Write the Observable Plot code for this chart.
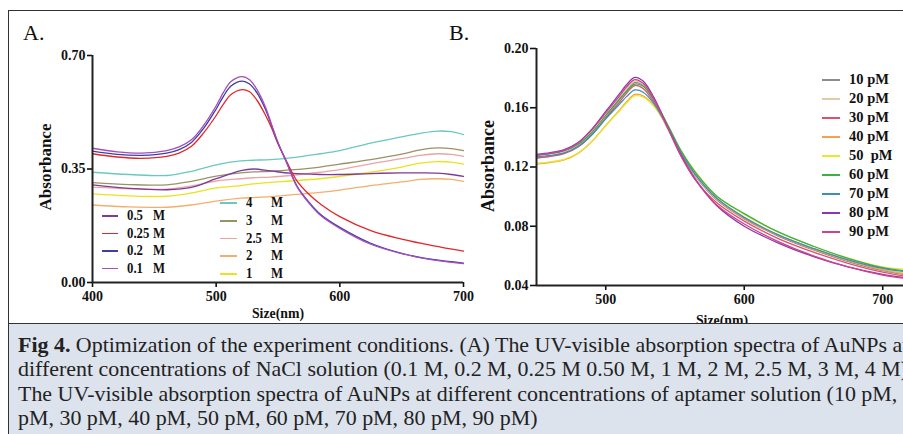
<!DOCTYPE html>
<html><head><meta charset="utf-8">
<script src="https://cdn.jsdelivr.net/npm/d3@7"></script>
<script src="https://cdn.jsdelivr.net/npm/@observablehq/plot@0.6"></script>
<style>
html,body{margin:0;padding:0;background:#fff;}
#page{position:relative;width:903px;height:434px;overflow:hidden;font-family:"Liberation Serif","Times New Roman",serif;color:#111;}
#frame{position:absolute;left:8px;top:10px;width:1000px;height:500px;border-left:1.5px solid #333;border-top:1.5px solid #333;}
#cap{position:absolute;left:8px;top:323px;width:1000px;height:130px;background:#dce3ed;border-top:1.5px solid #333;border-left:1.5px solid #333;z-index:5;}
.panel{position:absolute;top:0;}
.lbl{position:absolute;font-size:22px;line-height:1;}
.title{position:absolute;font-weight:bold;white-space:nowrap;line-height:1;}
.leg{position:absolute;font-weight:bold;font-size:14.5px;white-space:pre;line-height:16px;transform:scaleX(0.88);transform-origin:0 0;}
.sw{position:absolute;height:1.5px;}
.capline{position:absolute;left:18px;white-space:nowrap;font-size:21px;line-height:24px;transform-origin:0 0;color:#222;}
</style></head>
<body><div id="page"><div id="frame"></div></div>
<script>
// ---------- Panel A data: NaCl concentrations ----------
const seriesA = ["0.5 M","0.25 M","0.2 M","0.1 M","4 M","3 M","2.5 M","2 M","1 M"];
const colorsA = ["#7d3a98","#e3262a","#3d3f9e","#a64cbc","#69c8c0","#9a9266","#eba4a4","#f3ae6c","#e8e31e"];
const xDomA = [400, 700];
const yDomA = [0, 0.70];
const xTicksA = [400, 500, 600, 700];
const yTicksA = [0, 0.35, 0.70];

const wlAPeak = [400,420,440,460,470,480,490,500,506,512,521,527,533,540,545,550,557,565,575,585,600,625,650,675,700];
const nacl01  = [.414,.403,.399,.407,.418,.440,.485,.545,.587,.620,.635,.625,.595,.540,.485,.432,.370,.298,.245,.205,.167,.118,.089,.070,.058];
const nacl02  = [.405,.395,.392,.399,.410,.432,.476,.535,.575,.606,.621,.612,.585,.533,.482,.430,.370,.300,.248,.208,.170,.121,.090,.071,.060];
const nacl025 = [.397,.387,.383,.389,.399,.420,.462,.515,.551,.580,.595,.588,.562,.515,.475,.428,.373,.315,.272,.240,.203,.160,.134,.114,.097];

const wlABroad = [400,430,460,480,500,520,530,544,560,584,600,625,650,665,679,690,700];
const nacl4  = [.340,.333,.330,.343,.363,.375,.377,.379,.384,.397,.407,.430,.449,.460,.467,.465,.456];
const nacl3  = [.308,.302,.301,.312,.328,.338,.341,.343,.347,.356,.365,.379,.396,.409,.415,.413,.407];
const nacl25 = [.294,.289,.288,.298,.313,.320,.323,.325,.330,.340,.348,.366,.382,.392,.397,.395,.389];
const nacl2  = [.239,.233,.232,.239,.251,.260,.262,.265,.270,.278,.285,.299,.310,.318,.320,.318,.312];
const nacl1  = [.273,.267,.266,.276,.292,.299,.304,.309,.313,.320,.327,.340,.356,.368,.373,.371,.365];
const nacl05 = [.301,.290,.286,.293,.320,.345,.350,.344,.337,.333,.333,.336,.338,.338,.337,.333,.327];

// ---------- Panel B data: aptamer concentrations ----------
const seriesB = ["10 pM","20 pM","30 pM","40 pM","50 pM","60 pM","70 pM","80 pM","90 pM"];
const legendB = ["10 pM","20 pM","30 pM","40 pM","50  pM","60 pM","70 pM","80 pM","90 pM"];
const colorsB = ["#8c8c8c","#e6c7a6","#e0506a","#f5a150","#e8e82c","#3cb043","#3d8fb5","#8a3aa8","#d0408f"];
const xDomB = [450, 715];
const yDomB = [0.04, 0.20];
const xTicksB = [500, 600, 700];
const yTicksB = [0.04, 0.08, 0.12, 0.16, 0.20];

const wlB = [450,460,470,480,490,500,510,515,521,527,535,545,555,565,580,600,625,650,675,700,715];
const apt10 = [.1262,.1274,.1293,.1338,.1422,.1538,.1655,.1715,.1770,.1750,.1645,.1465,.1280,.1135,.0978,.0850,.0732,.0640,.0562,.0500,.0475];
const apt20 = [.1265,.1277,.1297,.1343,.1428,.1545,.1665,.1725,.1780,.1758,.1650,.1470,.1285,.1140,.0985,.0860,.0740,.0650,.0570,.0510,.0485];
const apt30 = [.1260,.1272,.1290,.1335,.1418,.1530,.1640,.1698,.1750,.1730,.1632,.1455,.1262,.1110,.0960,.0835,.0715,.0625,.0550,.0490,.0465];
const apt40 = [.1220,.1230,.1248,.1292,.1372,.1480,.1585,.1640,.1690,.1680,.1610,.1462,.1285,.1145,.0988,.0855,.0738,.0645,.0568,.0505,.0480];
const apt50 = [.1225,.1235,.1252,.1295,.1373,.1478,.1580,.1632,.1680,.1672,.1608,.1470,.1300,.1165,.1005,.0880,.0758,.0665,.0585,.0525,.0510];
const apt60 = [.1278,.1290,.1308,.1352,.1435,.1548,.1660,.1712,.1760,.1745,.1650,.1480,.1300,.1160,.1005,.0885,.0760,.0665,.0583,.0520,.0500];
const apt70 = [.1268,.1278,.1295,.1338,.1418,.1525,.1625,.1675,.1720,.1705,.1625,.1465,.1285,.1145,.0990,.0860,.0740,.0650,.0573,.0515,.0495];
const apt80 = [.1285,.1297,.1317,.1365,.1455,.1575,.1695,.1755,.1805,.1780,.1665,.1465,.1270,.1115,.0940,.0800,.0685,.0595,.0525,.0475,.0455];
const apt90 = [.1280,.1292,.1312,.1360,.1450,.1565,.1680,.1740,.1790,.1765,.1655,.1460,.1265,.1110,.0945,.0815,.0695,.0600,.0525,.0470,.0450];

// ---------- build tidy rows ----------
function rows(name, xs, ys){ return xs.map((x,i)=>({series:name, wl:x, abs:ys[i]})); }
const rowsA = [
  ...rows("2 M", wlABroad, nacl2), ...rows("1 M", wlABroad, nacl1), ...rows("2.5 M", wlABroad, nacl25),
  ...rows("3 M", wlABroad, nacl3), ...rows("4 M", wlABroad, nacl4), ...rows("0.5 M", wlABroad, nacl05),
  ...rows("0.25 M", wlAPeak, nacl025), ...rows("0.2 M", wlAPeak, nacl02), ...rows("0.1 M", wlAPeak, nacl01)
];
const aptArrays = [apt10,apt20,apt30,apt40,apt50,apt60,apt70,apt80,apt90];
const rowsB = seriesB.flatMap((s,i)=>rows(s, wlB, aptArrays[i]));

const page = document.getElementById("page");
const baseStyle = {fontFamily:"'Liberation Serif','Times New Roman',serif", fontSize:"14px", fontWeight:"bold", color:"#111", background:"transparent", overflow:"visible"};

const plotA = Plot.plot({
  width:470, height:330, marginLeft:92, marginRight:7, marginTop:55, marginBottom:48,
  x:{domain:xDomA}, y:{domain:yDomA},
  color:{domain:seriesA, range:colorsA},
  style:baseStyle,
  marks:[
    Plot.line(rowsA, {x:"wl", y:"abs", z:"series", stroke:"series", strokeWidth:1.3, curve:"catmull-rom"}),
    Plot.axisX({ticks:xTicksA, tickSize:5, tickPadding:4, strokeWidth:1.6, label:null, tickFormat:d=>String(d)}),
    Plot.axisY({ticks:yTicksA, tickSize:5, tickPadding:2, strokeWidth:1.6, label:null, tickFormat:d=>d.toFixed(2)}),
    Plot.ruleX([xDomA[0]], {strokeWidth:2, stroke:"#222"}),
    Plot.ruleY([yDomA[0]], {strokeWidth:2, stroke:"#222"})
  ]
});
plotA.classList.add("panel"); plotA.style.left = "0px";
page.appendChild(plotA);

const plotB = Plot.plot({
  width:463, height:330, marginLeft:96, marginRight:0, marginTop:48, marginBottom:45,
  x:{domain:xDomB}, y:{domain:yDomB},
  color:{domain:seriesB, range:colorsB},
  style:baseStyle,
  marks:[
    Plot.line(rowsB, {x:"wl", y:"abs", z:"series", stroke:"series", strokeWidth:1.3, curve:"catmull-rom"}),
    Plot.axisX({ticks:xTicksB, tickSize:5, tickPadding:4, strokeWidth:1.6, label:null, tickFormat:d=>String(d)}),
    Plot.axisY({ticks:yTicksB, tickSize:6, tickPadding:2, strokeWidth:1.6, label:null, tickFormat:d=>d.toFixed(2)}),
    Plot.ruleX([xDomB[0]], {strokeWidth:2, stroke:"#222"}),
    Plot.ruleY([yDomB[0]], {strokeWidth:2, stroke:"#222"})
  ]
});
plotB.classList.add("panel"); plotB.style.left = "440px";
page.appendChild(plotB);

// ---------- text helpers ----------
function el(cls, html, css){ const d=document.createElement("div"); d.className=cls; d.innerHTML=html; Object.assign(d.style, css); page.appendChild(d); return d; }

el("lbl","A.",{left:"23px", top:"22px"});
el("lbl","B.",{left:"449px", top:"22px"});

el("title","Absorbance",{left:"45px", top:"167px", fontSize:"17px", transform:"translate(-50%,-50%) rotate(-90deg)"});
el("title","Absorbance",{left:"488px", top:"166px", fontSize:"18px", transform:"translate(-50%,-50%) rotate(-90deg)"});
el("title","Size(nm)",{left:"278px", top:"313px", fontSize:"15px", transform:"translate(-50%,-50%) scaleX(0.92)"});
el("title","Size(nm)",{left:"722px", top:"320px", fontSize:"15px", transform:"translate(-50%,-50%) scaleX(0.92)"});

// ---------- legend A ----------
const legAleft = [["0.5","0.5 M"],["0.25","0.25 M"],["0.2","0.2 M"],["0.1","0.1 M"]];
const legAright = [["4","4 M"],["3","3 M"],["2.5","2.5 M"],["2","2 M"],["1","1 M"]];
const rowYleft = [215, 232.5, 250, 267.5];
const rowYright = [202, 220, 237.5, 255, 273];
legAleft.forEach(([num,key],i)=>{
  const c = colorsA[seriesA.indexOf(key)];
  el("sw","",{left:"102px", width:"16px", top:rowYleft[i]+"px", background:c});
  el("leg",num,{left:"127px", top:(rowYleft[i]-8)+"px"});
  el("leg","M",{left:"153px", top:(rowYleft[i]-8)+"px"});
});
legAright.forEach(([num,key],i)=>{
  const c = colorsA[seriesA.indexOf(key)];
  el("sw","",{left:"220px", width:"17px", top:rowYright[i]+"px", background:c});
  el("leg",num,{left:"246px", top:(rowYright[i]-8)+"px"});
  el("leg","M",{left:"271px", top:(rowYright[i]-8)+"px"});
});

// ---------- legend B ----------
legendB.forEach((lab,i)=>{
  const y = 79 + 19*i;
  el("sw","",{left:"822px", width:"18px", top:y+"px", background:colorsB[i]});
  el("leg",lab,{left:"849px", top:(y-8)+"px", transform:"none"});
});

// ---------- caption ----------
const cap = document.createElement("div"); cap.id="cap"; page.appendChild(cap);
const capLines = [
  '<b id="figb">Fig 4.</b> <span id="first">Optimization of the experiment conditions.</span> (A) The UV-visible absorption spectra of AuNPs at',
  'different concentrations of NaCl solution (0.1 M, 0.2 M, 0.25 M 0.50 M, 1 M, 2 M, 2.5 M, 3 M, 4 M). (B)',
  'The UV-visible absorption spectra of AuNPs at different concentrations of aptamer solution (10 pM, 20',
  'pM, 30 pM, 40 pM, 50 pM, 60 pM, 70 pM, 80 pM, 90 pM)'
];
const capTops = [333, 357, 382, 406];
const lineEls = capLines.map((t,i)=>el("capline", t, {top:capTops[i]+"px", zIndex:6}));
const b = document.getElementById("figb").getBoundingClientRect();
const f = document.getElementById("first").getBoundingClientRect();
const natural = f.right - b.left;
const k = 436 / natural;
lineEls.forEach(d=>{ d.style.transform = "scaleX(" + k + ")"; });
</script>
</body></html>
